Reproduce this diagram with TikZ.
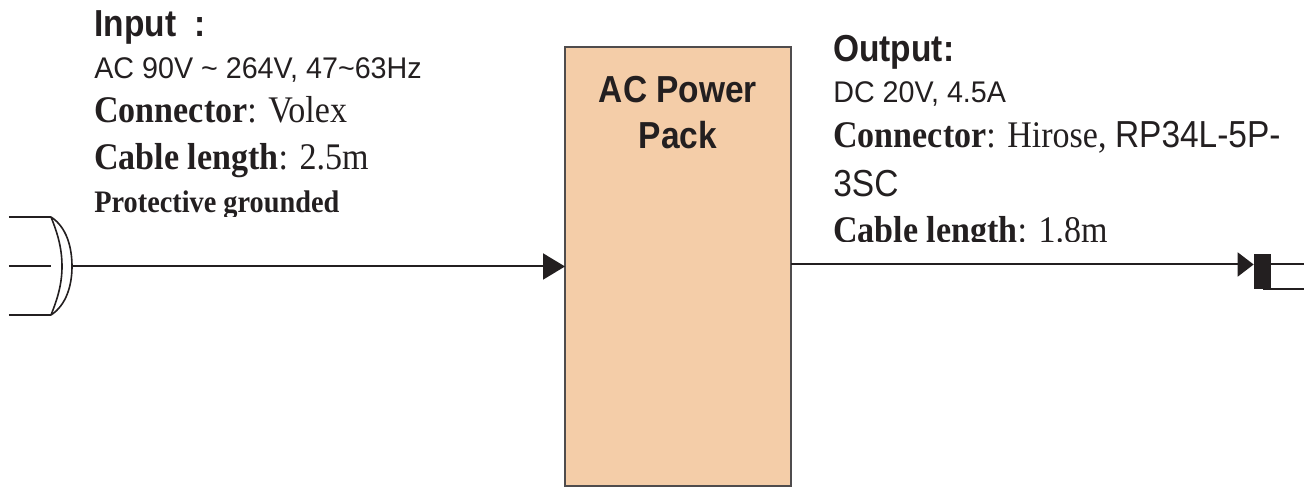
\documentclass[tikz,border=0pt]{standalone}
\usepackage{fontspec}
\newfontfamily\headfont[FakeStretch=0.89]{Liberation Sans}
\newfontfamily\specfont[FakeStretch=0.96]{Liberation Sans}
\newfontfamily\txtfont[FakeStretch=0.905]{Liberation Serif}
\usetikzlibrary{arrows.meta}
\definecolor{inkK}{HTML}{231F20}
\definecolor{packC}{HTML}{F4CDA8}

\begin{document}
\begin{tikzpicture}[
    wire/.style={line width=0.04cm, inkK},
    tipwire/.style={wire, -{Triangle[length=0.44cm, width=0.52cm]}},
    plugline/.style={line width=0.04cm, inkK},
    plugarc/.style={line width=0.032cm, inkK},
    packbox/.style={draw=inkK!80, line width=0.03cm, fill=packC, inner sep=0pt, outer sep=0pt,
        minimum width=4.52cm, minimum height=8.78cm},
    head/.style={anchor=base west, inner sep=0pt, text=inkK, font=\headfont\bfseries\fontsize{21.4}{25}\selectfont},
    spec/.style={anchor=base west, inner sep=0pt, text=inkK, font=\specfont\fontsize{17}{20}\selectfont},
    txt/.style={anchor=base west, inner sep=0pt, text=inkK, font=\txtfont\fontsize{21.4}{25}\selectfont},
    packlbl/.style={anchor=base, inner sep=0pt, text=inkK, font=\headfont\bfseries\fontsize{21.4}{25}\selectfont},
]
\useasboundingbox (0, 0) rectangle (26.08, 9.74);

% === AC power pack ===
\node[packbox] (pack) at (13.56, 4.41) {};
\node[packlbl] (packA) at (13.56, 7.68) {AC Power};
\node[packlbl] (packB) at (13.56, 6.76) {Pack};

% === Input text ===
\node[head] (inHead) at (1.88, 9.0) {Input\ \ :};
\node[spec] (inSpec) at (1.88, 8.16) {AC 90V \char`\~\ 264V, 47\char`\~63Hz};
\node[txt] (inConn) at (1.88, 7.28) {\textbf{Connector}: Volex};
\node[txt] (inCable) at (1.88, 6.34) {\textbf{Cable length}: 2.5m};
\begin{scope}
    \clip (1.6, 5.40) rectangle (8, 6.2);
    \node[txt, font=\txtfont\bfseries\fontsize{17.8}{20}\selectfont] (inGnd) at (1.88, 5.48) {Protective grounded};
\end{scope}

% === Output text ===
\node[head] (outHead) at (16.66, 8.5) {Output:};
\node[spec] (outSpec) at (16.66, 7.68) {DC 20V, 4.5A};
\node[txt] (outConn) at (16.66, 6.78) {\textbf{Connector}: Hirose, {\headfont RP34L-5P-}};
\node[txt, font=\headfont\fontsize{21.4}{25}\selectfont] (outCont) at (16.66, 5.80) {3SC};
\begin{scope}
    \clip (16.4, 4.90) rectangle (23, 5.6);
    \node[txt] (outCable) at (16.66, 4.88) {\textbf{Cable length}: 1.8m};
\end{scope}

% === Plug on the left ===
\coordinate (plugA) at (1.02, 5.40);
\coordinate (plugB) at (1.02, 3.44);
\coordinate (plugC) at (1.44, 4.41);
\draw[plugline] (0.18, 5.40) -- (plugA);
\draw[plugline] (0.18, 4.41) -- (1.02, 4.41);
\draw[plugline] (0.18, 3.44) -- (plugB);
\draw[plugarc] (plugA) .. controls (1.33, 5.20) and (1.44, 4.80) .. (plugC)
    .. controls (1.44, 4.04) and (1.33, 3.64) .. (plugB);
\draw[plugarc] (plugA) .. controls (1.14, 5.10) and (1.24, 4.80) .. (1.24, 4.41)
    .. controls (1.24, 4.04) and (1.14, 3.74) .. (plugB);
\draw[tipwire] (plugC) -- (pack.west);

% === Connector on the right ===
\node[fill=inkK, inner sep=0pt, minimum width=0.34cm, minimum height=0.70cm] (jack) at (25.25, 4.31) {};
\coordinate (outStart) at (15.82, 4.45);
\coordinate (outEnd) at (26.08, 4.45);
\coordinate (outLow) at (26.08, 3.97);
\draw[wire, -{Triangle[length=0.32cm, width=0.48cm]}] (outStart) -- (jack.west |- outStart);
\draw[wire] (jack.east |- outEnd) -- (outEnd);
\draw[wire] (jack.south) -- (outLow |- jack.south);

\end{tikzpicture}
\end{document}
